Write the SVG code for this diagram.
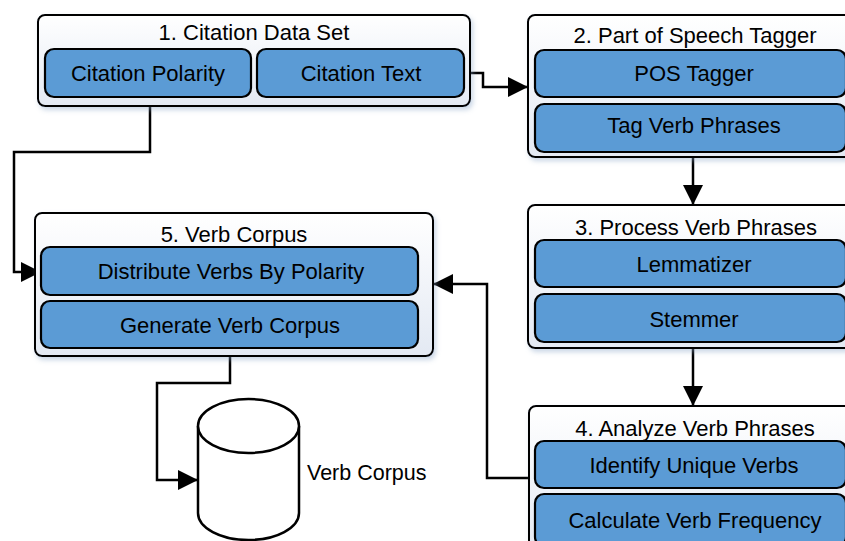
<svg xmlns="http://www.w3.org/2000/svg" width="845" height="541" viewBox="0 0 845 541">
<defs>
<linearGradient id="outerGrad" x1="0" y1="0" x2="0" y2="1">
<stop offset="0" stop-color="#ffffff"/>
<stop offset="1" stop-color="#e3e9f3"/>
</linearGradient>
<filter id="shadow" x="-5%" y="-5%" width="115%" height="120%">
<feDropShadow dx="2" dy="3" stdDeviation="2.5" flood-color="#8aa4c8" flood-opacity="0.45"/>
</filter>
<marker id="arrow" markerUnits="userSpaceOnUse" viewBox="0 0 20 20" refX="20" refY="10" markerWidth="20" markerHeight="20" orient="auto">
<path d="M0,0 L20,10 L0,20 Z" fill="#000"/>
</marker>
</defs>
<style>
.outer{fill:url(#outerGrad);stroke:#000;stroke-width:2;filter:url(#shadow)}
.inner{fill:#5b9bd5;stroke:#000;stroke-width:2.2}
.t{font-family:"Liberation Sans",Arial,sans-serif;font-size:22px;fill:#000;text-anchor:middle}
.lbl{font-family:"Liberation Sans",Arial,sans-serif;font-size:21.5px;fill:#000}
.conn{fill:none;stroke:#000;stroke-width:2.5;marker-end:url(#arrow)}
.cyl{fill:#fff;stroke:#000;stroke-width:2.5}
</style>

<g id="connectors">
<path class="conn" d="M150,97 V152 H14 V272 H41"/>
<path class="conn" d="M464,73 H483 V87 H528"/>
<path class="conn" d="M693,157 V205"/>
<path class="conn" d="M693,348 V406"/>
<path class="conn" d="M529,478 H487 V284 H433"/>
<path class="conn" d="M230,348 V383 H157 V480 H198"/>
</g>

<g id="node1">
<rect class="outer" x="38" y="15" width="432" height="91" rx="7"/>
<text class="t" x="254" y="40">1. Citation Data Set</text>
<rect class="inner" x="45" y="49" width="206" height="48" rx="9"/>
<text class="t" x="148" y="81">Citation Polarity</text>
<rect class="inner" x="257" y="49" width="207" height="48" rx="9"/>
<text class="t" x="361" y="81">Citation Text</text>
</g>

<g id="node2">
<rect class="outer" x="528" y="15" width="326" height="142" rx="7"/>
<text class="t" x="695" y="43">2. Part of Speech Tagger</text>
<rect class="inner" x="535" y="50" width="311" height="47" rx="9"/>
<text class="t" x="694" y="81">POS Tagger</text>
<rect class="inner" x="535" y="104" width="311" height="48" rx="9"/>
<text class="t" x="694" y="133">Tag Verb Phrases</text>
</g>

<g id="node3">
<rect class="outer" x="528" y="205" width="326" height="143" rx="7"/>
<text class="t" x="696" y="235">3. Process Verb Phrases</text>
<rect class="inner" x="535" y="240" width="311" height="47" rx="9"/>
<text class="t" x="694" y="272">Lemmatizer</text>
<rect class="inner" x="535" y="294" width="311" height="48" rx="9"/>
<text class="t" x="694" y="327">Stemmer</text>
</g>

<g id="node4">
<rect class="outer" x="529" y="406" width="326" height="150" rx="7"/>
<text class="t" x="695" y="436">4. Analyze Verb Phrases</text>
<rect class="inner" x="535" y="441" width="311" height="47" rx="9"/>
<text class="t" x="694" y="473">Identify Unique Verbs</text>
<rect class="inner" x="535" y="494" width="311" height="52" rx="9"/>
<text class="t" x="695" y="528">Calculate Verb Frequency</text>
</g>

<g id="node5">
<rect class="outer" x="35" y="213" width="398" height="143" rx="7"/>
<text class="t" x="234" y="242">5. Verb Corpus</text>
<rect class="inner" x="41" y="247" width="377" height="48" rx="9"/>
<text class="t" x="231" y="279">Distribute Verbs By Polarity</text>
<rect class="inner" x="41" y="301" width="377" height="47" rx="9"/>
<text class="t" x="230" y="333">Generate Verb Corpus</text>
</g>

<g id="verbCorpusDB">
<path class="cyl" d="M198,426 V513 A50.5,27 0 0 0 299,513 V426 A50.5,27 0 0 0 198,426 Z"/>
<path class="cyl" fill="none" d="M198,426 A50.5,27 0 0 0 299,426"/>
<text class="lbl" x="307" y="480">Verb Corpus</text>
</g>
</svg>
